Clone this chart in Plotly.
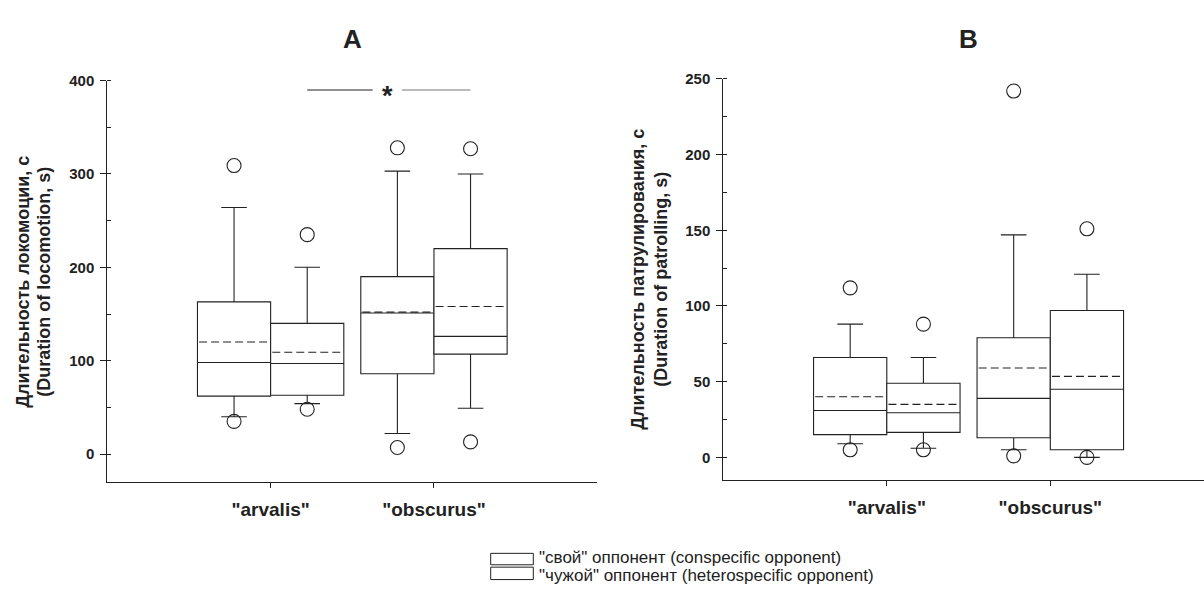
import numpy as np
import plotly.graph_objects as go

# ---------------- data ----------------
categories = ['"arvalis"', '"obscurus"']
series_names = ['"свой" оппонент (conspecific opponent)',
                '"чужой" оппонент (heterospecific opponent)']

# Panel A – duration of locomotion, s
A_con_lowfence = [40, 22]
A_con_q1 = [62, 86]
A_con_median = [98, 151]
A_con_q3 = [163, 190]
A_con_upfence = [264, 303]
A_con_mean = [120, 152]
A_con_out_low = [35, 7]
A_con_out_high = [309, 328]

A_het_lowfence = [54, 49]
A_het_q1 = [63, 107]
A_het_median = [97, 126]
A_het_q3 = [140, 220]
A_het_upfence = [200, 300]
A_het_mean = [109, 158]
A_het_out_low = [48, 13]
A_het_out_high = [235, 327]

A_sig_level = 390

# Panel B – duration of patrolling, s
B_con_lowfence = [9, 5]
B_con_q1 = [15, 13]
B_con_median = [31, 39]
B_con_q3 = [66, 79]
B_con_upfence = [88, 147]
B_con_mean = [40, 59]
B_con_out_low = [5, 1]
B_con_out_high = [112, 242]

B_het_lowfence = [6, 0]
B_het_q1 = [16.5, 5]
B_het_median = [29.5, 45]
B_het_q3 = [49, 97]
B_het_upfence = [66, 121]
B_het_mean = [35, 53.5]
B_het_out_low = [5, 0]
B_het_out_high = [88, 151]

A_ytitle_lines = ["Длительность локомоции, с", "(Duration of locomotion, s)"]
B_ytitle_lines = ["Длительность патрулирования, с", "(Duration of patrolling, s)"]

# ---------------- style ----------------
W, H = 1204, 596
INK = "#222222"
FONT = "Liberation Sans, Arial, sans-serif"
OFF = 0.224
BOX_W = 0.448


def px_x(p):
    return p / W


def px_y(p):
    return 1 - p / H


fig = go.Figure()

panels = [
    ("x", "y", [
        (-OFF, A_con_lowfence, A_con_q1, A_con_median, A_con_q3, A_con_upfence,
         A_con_mean, A_con_out_low, A_con_out_high),
        (OFF, A_het_lowfence, A_het_q1, A_het_median, A_het_q3, A_het_upfence,
         A_het_mean, A_het_out_low, A_het_out_high),
    ]),
    ("x2", "y2", [
        (-OFF, B_con_lowfence, B_con_q1, B_con_median, B_con_q3, B_con_upfence,
         B_con_mean, B_con_out_low, B_con_out_high),
        (OFF, B_het_lowfence, B_het_q1, B_het_median, B_het_q3, B_het_upfence,
         B_het_mean, B_het_out_low, B_het_out_high),
    ]),
]

idx = np.arange(len(categories))
for xa, ya, series in panels:
    for k, (off, lf, q1, med, q3, uf, mean, olo, ohi) in enumerate(series):
        pos = idx + off
        fig.add_trace(go.Box(
            x=pos, q1=q1, median=med, q3=q3, lowerfence=lf, upperfence=uf,
            width=BOX_W, whiskerwidth=0.35, boxpoints=False,
            fillcolor="white", line=dict(color=INK, width=1.1),
            name=series_names[k], showlegend=False, xaxis=xa, yaxis=ya,
            hoverinfo="skip"))
        mx, my = [], []
        for p, m in zip(pos, mean):
            mx += [p - BOX_W / 2 + 0.01, p + BOX_W / 2 - 0.01, None]
            my += [m, m, None]
        fig.add_trace(go.Scatter(
            x=mx, y=my, mode="lines",
            line=dict(color=INK, width=1.1, dash="8px,4px"),
            showlegend=False, xaxis=xa, yaxis=ya, hoverinfo="skip"))
        fig.add_trace(go.Scatter(
            x=list(pos) + list(pos), y=list(olo) + list(ohi), mode="markers",
            marker=dict(symbol="circle-open", size=14,
                        line=dict(color=INK, width=1.1), color=INK),
            showlegend=False, xaxis=xa, yaxis=ya, hoverinfo="skip"))

# significance bracket in panel A (between heterospecific boxes)
fig.add_shape(type="line", xref="x", yref="y", x0=idx[0] + OFF, x1=0.625,
              y0=A_sig_level, y1=A_sig_level, line=dict(color=INK, width=1.1))
fig.add_shape(type="line", xref="x", yref="y", x0=0.805, x1=idx[1] + OFF,
              y0=A_sig_level, y1=A_sig_level, line=dict(color="#777777", width=1.1))
fig.add_annotation(xref="x", yref="y", x=0.715, y=A_sig_level, text="<b>*</b>",
                   showarrow=False, yshift=-6,
                   font=dict(size=27, color=INK, family=FONT))

axis_common = dict(showline=True, linecolor=INK, linewidth=1.1, showgrid=False,
                   zeroline=False, ticks="outside", tickcolor=INK, tickwidth=1.1)

xaxis_common = dict(axis_common, tickvals=list(idx), ticktext=categories, ticklen=5,
                    tickfont=dict(family=FONT, size=19, color=INK, weight="bold"),
                    ticklabelstandoff=5)

fig.update_layout(
    width=W, height=H, margin=dict(l=0, r=0, t=0, b=0),
    paper_bgcolor="white", plot_bgcolor="white",
    font=dict(family=FONT, color=INK),
    showlegend=False,
    xaxis=dict(xaxis_common, domain=[px_x(107.3), px_x(597.3)], range=[-1, 2],
               anchor="y"),
    yaxis=dict(axis_common, domain=[px_y(480.3), px_y(72.7)], range=[-30, 400],
               tickvals=[0, 100, 200, 300, 400], ticklen=6, anchor="x",
               ticklabelstandoff=3,
               tickfont=dict(family=FONT, size=15, color=INK, weight="bold"),
               minor=dict(ticks="inside", ticklen=4, dtick=50, tickcolor=INK,
                          showgrid=False)),
    xaxis2=dict(xaxis_common, domain=[px_x(723.3), 1.0],
                range=[-1, -1 + (W - 723.3) / 163.5], anchor="y2"),
    yaxis2=dict(axis_common, domain=[px_y(478.3), px_y(71)], range=[-15, 250],
                tickvals=[0, 50, 100, 150, 200, 250], ticklen=6, anchor="x2",
                ticklabelstandoff=3,
                tickfont=dict(family=FONT, size=15, color=INK, weight="bold"),
                minor=dict(ticks="inside", ticklen=4, dtick=25, tickcolor=INK,
                           showgrid=False)),
)

# panel titles
for label, cx in (("A", 352), ("B", 968)):
    fig.add_annotation(xref="paper", yref="paper", x=px_x(cx), y=px_y(30),
                       text="<b>" + label + "</b>", showarrow=False,
                       xanchor="center", yanchor="middle",
                       font=dict(size=26, family=FONT, color=INK))

# y-axis titles (two lines each)
for lines, xs, yc in ((A_ytitle_lines, (23, 44), 277), (B_ytitle_lines, (638, 661), 275)):
    for line, xc in zip(lines, xs):
        fig.add_annotation(xref="paper", yref="paper", x=px_x(xc), y=px_y(yc),
                           text="<b>" + line + "</b>", textangle=-90,
                           showarrow=False, xanchor="center", yanchor="middle",
                           font=dict(size=18, family=FONT, color=INK))

# legend
legend_rows = [(552.7, 564.3, 557.0), (566.7, 579.3, 575.0)]
for name, (y0, y1, yc) in zip(series_names, legend_rows):
    fig.add_shape(type="rect", xref="paper", yref="paper",
                  x0=px_x(490.7), x1=px_x(533.3), y0=px_y(y1), y1=px_y(y0),
                  line=dict(color=INK, width=1), fillcolor="white")
    fig.add_annotation(xref="paper", yref="paper", x=px_x(537), y=px_y(yc),
                       text=name, showarrow=False, xanchor="left", yanchor="middle",
                       font=dict(size=17, family=FONT, color=INK))

fig.write_html("out.html",
               config={"displayModeBar": False},
               post_script="document.body.style.margin='0';"
                           "document.body.style.overflow='hidden';")
